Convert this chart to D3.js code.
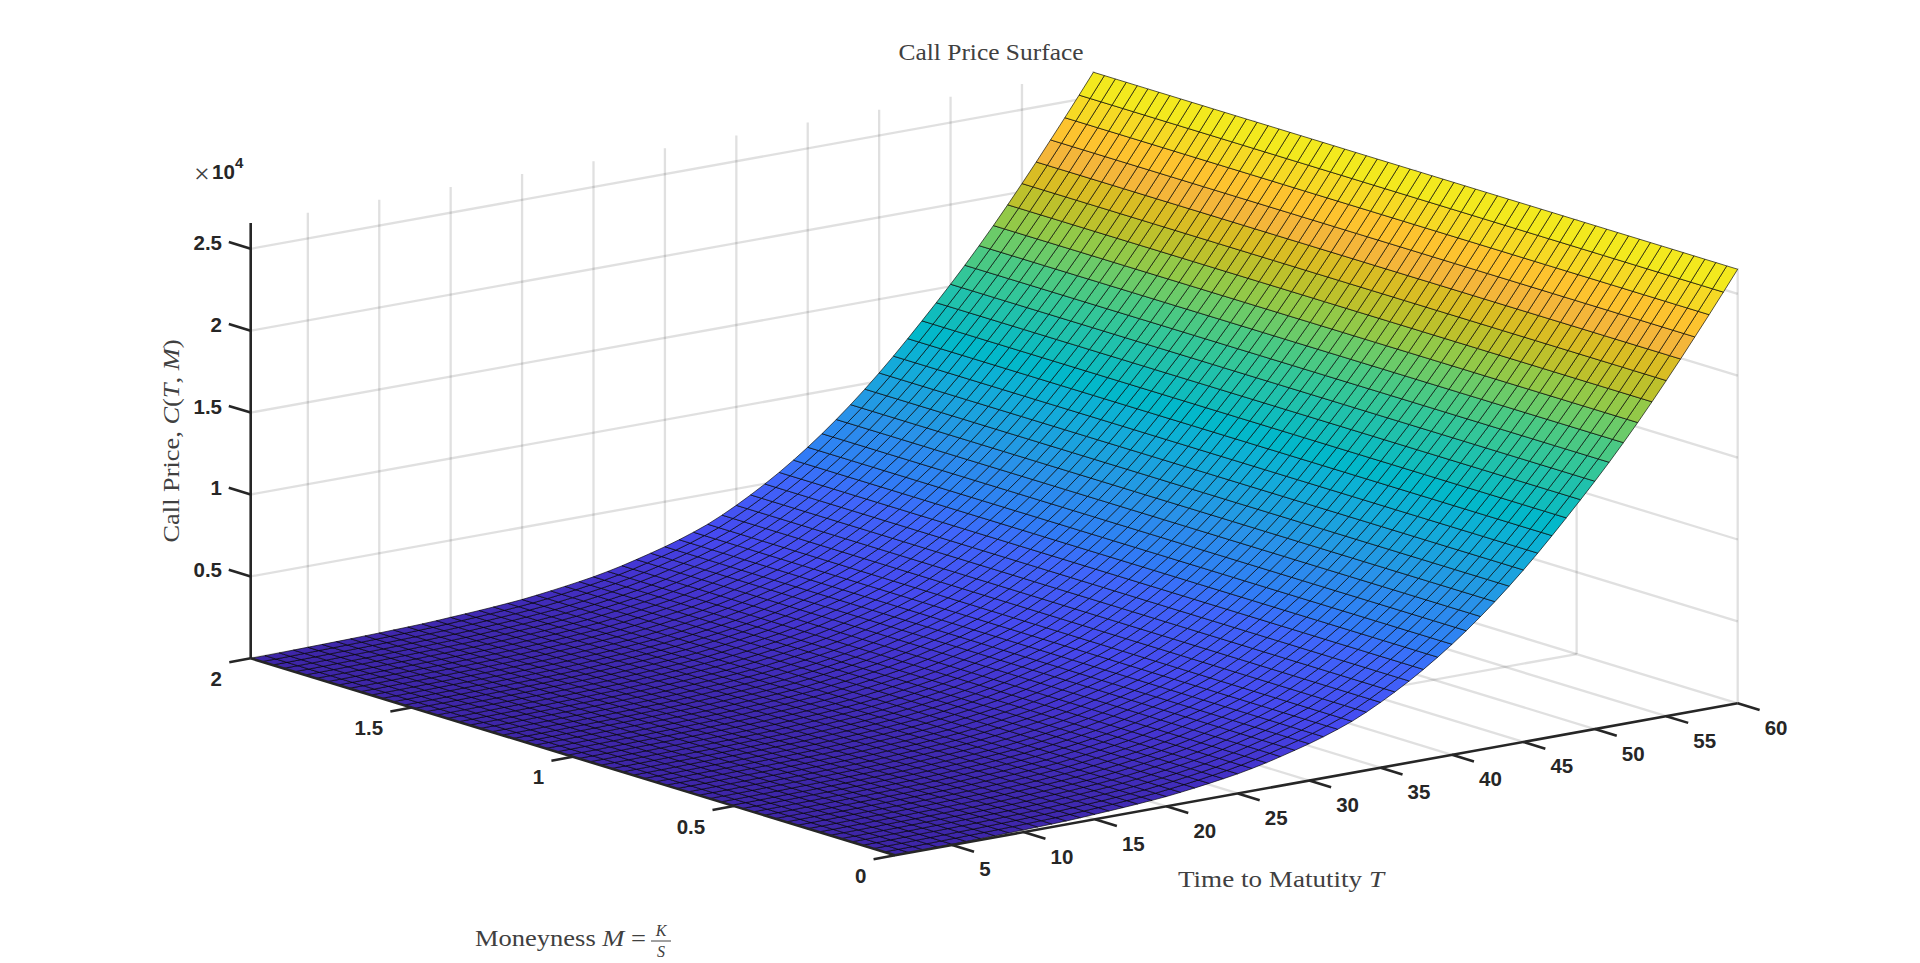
<!DOCTYPE html>
<html>
<head>
<meta charset="utf-8">
<script src="https://cdn.jsdelivr.net/npm/d3@7"></script>
<style>
    body { margin: 0; background: #fff; }
    text { fill: #262626; }
    .tick { font-family: "Liberation Sans", Arial, sans-serif; font-weight: bold; font-size: 20.5px; }
    .cm { font-family: "Liberation Serif", serif; font-size: 23px; fill: #404040; }
</style>
</head>
<body>
<div id="chart"></div>
<script>
// one mesh row per T, the price does not visibly change along M
const maturity = [1,2,3,4,5,6,7,8,9,10,11,12,13,14,15,16,17,18,19,20,21,22,23,24,25,26,27,28,29,30,
    31,32,33,34,35,36,37,38,39,40,41,42,43,44,45,46,47,48,49,50,51,52,53,54,55,56,57,58,59,60];
const moneyness = [0,.034,.068,.102,.136,.169,.203,.237,.271,.305,.339,.373,.407,.441,.475,.508,.542,.576,.61,.644,
    .678,.712,.746,.78,.814,.847,.881,.915,.949,.983,1.017,1.051,1.085,1.119,1.153,1.186,1.22,1.254,1.288,1.322,
    1.356,1.39,1.424,1.458,1.492,1.525,1.559,1.593,1.627,1.661,1.695,1.729,1.763,1.797,1.831,1.864,1.898,1.932,1.966,2];
const callPrice = [0,5,15,30,45,60,75,90,110,130,155,180,210,250,300,350,400,460,525,600,
    700,810,930,1060,1200,1370,1560,1780,2010,2250,2520,2820,3150,3550,3990,4470,4980,5530,6120,6750,
    7420,8130,8880,9670,10500,11370,12280,13210,14160,15130,16130,17170,18240,19350,20490,21650,22840,24040,25260,26500];

const tTicks = [5,10,15,20,25,30,35,40,45,50,55,60];
const mTicks = [0,0.5,1,1.5,2];
const zTicks = [5000,10000,15000,20000,25000];
const zMax = 26575;

const colorLevels = [0,1300,2700,5000,6300,8000,9300,11000,12200,13500,14800,15800,17200,18300,19300,20500,21600,22800,24000,25300,26500];
const colorValues = ["#3e26a8","#4433cd","#4649ef","#4065fb","#2f7ff5","#2a90ea","#1e9fe0","#10aed8","#02b8cb","#14bdb8",
    "#2cc5a0","#40c98c","#6ccb68","#95c946","#bcc12c","#d9bd24","#f4b53a","#fdc22f","#f6d824","#f3ea1e","#f8fa14"];

const svg = d3.select("#chart").append("svg")
    .attr("width", 1920)
    .attr("height", 963);

// orthographic view: each data axis has its own screen vector
const originX = 895, originY = 855.3;
const tX = d3.scaleLinear().domain([1, 60]).range([0, 842.7]);
const tY = d3.scaleLinear().domain([1, 60]).range([0, -152]);
const mX = d3.scaleLinear().domain([0, 2]).range([0, -644.3]);
const mY = d3.scaleLinear().domain([0, 2]).range([0, -197]);
const zY = d3.scaleLinear().domain([0, zMax]).range([0, -435.3]);
const color = d3.scaleLinear().domain(colorLevels).range(colorValues);

function project(t, m, z) {
    return [originX + tX(t) + mX(m), originY + tY(t) + mY(m) + zY(z)];
}

function segment(g, a, b, stroke, width, opacity) {
    g.append("line")
        .attr("x1", a[0]).attr("y1", a[1])
        .attr("x2", b[0]).attr("y2", b[1])
        .attr("stroke", stroke)
        .attr("stroke-width", width)
        .attr("stroke-opacity", opacity);
}

// grid on floor and the two back walls
const grid = svg.append("g");
const gridColor = "#262626", gridWidth = 2.3, gridAlpha = 0.14;
tTicks.forEach(t => {
    segment(grid, project(t, 0, 0), project(t, 2, 0), gridColor, gridWidth, gridAlpha);
    segment(grid, project(t, 2, 0), project(t, 2, zMax), gridColor, gridWidth, gridAlpha);
});
mTicks.slice(0, 4).forEach(m => {
    segment(grid, project(60, m, 0), project(60, m, zMax), gridColor, gridWidth, gridAlpha);
});
mTicks.slice(1).forEach(m => {
    segment(grid, project(1, m, 0), project(60, m, 0), gridColor, gridWidth, gridAlpha);
});
zTicks.forEach(z => {
    segment(grid, project(1, 2, z), project(60, 2, z), gridColor, gridWidth, gridAlpha);
    segment(grid, project(60, 2, z), project(60, 0, z), gridColor, gridWidth, gridAlpha);
});

// surface, one flat cell per mesh square, coloured from its lower T corner
const cells = [];
for (let i = 0; i < maturity.length - 1; i++) {
    for (let j = 0; j < moneyness.length - 1; j++) {
        cells.push({i: i, j: j});
    }
}
const cellLine = d3.line();
svg.append("g").selectAll("path")
    .data(cells)
    .join("path")
    .attr("d", d => cellLine([
        project(maturity[d.i], moneyness[d.j], callPrice[d.i]),
        project(maturity[d.i + 1], moneyness[d.j], callPrice[d.i + 1]),
        project(maturity[d.i + 1], moneyness[d.j + 1], callPrice[d.i + 1]),
        project(maturity[d.i], moneyness[d.j + 1], callPrice[d.i])
    ]) + "Z")
    .attr("fill", d => color(callPrice[d.i]))
    .attr("stroke", "#000")
    .attr("stroke-width", 0.65)
    .attr("stroke-linejoin", "round");

// axes
const axes = svg.append("g");
const axisColor = "#262626", axisWidth = 2.6;
segment(axes, project(1, 2, 0), project(1, 2, zMax), axisColor, axisWidth, 1);
segment(axes, project(1, 0, 0), project(1, 2, 0), axisColor, axisWidth, 1);
segment(axes, project(1, 0, 0), project(60, 0, 0), axisColor, axisWidth, 1);

const ticks = svg.append("g");
const labelText = v => String(v);

tTicks.forEach(t => {
    const p = project(t, 0, 0);
    const q = project(t, -0.068, 0);
    segment(axes, p, q, axisColor, axisWidth, 1);
    ticks.append("text").attr("class", "tick")
        .attr("x", p[0] + 27).attr("y", p[1] + 24)
        .attr("text-anchor", "start").attr("dominant-baseline", "central")
        .text(labelText(t));
});
mTicks.forEach(m => {
    const p = project(1, m, 0);
    const q = project(-0.5, m, 0);
    segment(axes, p, q, axisColor, axisWidth, 1);
    ticks.append("text").attr("class", "tick")
        .attr("x", p[0] - 28.7).attr("y", p[1] + 20)
        .attr("text-anchor", "end").attr("dominant-baseline", "central")
        .text(labelText(m));
});
zTicks.forEach(z => {
    const p = project(1, 2, z);
    const q = project(1, 2.068, z);
    segment(axes, p, q, axisColor, axisWidth, 1);
    ticks.append("text").attr("class", "tick")
        .attr("x", 222).attr("y", p[1] - 6.5)
        .attr("text-anchor", "end").attr("dominant-baseline", "central")
        .text(labelText(z / 10000));
});

// exponent
ticks.append("text").attr("class", "cm").style("font-size", "28px").attr("x", 194).attr("y", 183).text("×");
ticks.append("text").attr("class", "tick").attr("x", 212).attr("y", 179).text("10");
ticks.append("text").attr("class", "tick").attr("x", 235).attr("y", 168).style("font-size", "15px").text("4");

// titles
svg.append("text").attr("class", "cm")
    .attr("x", 991).attr("y", 60)
    .attr("text-anchor", "middle")
    .attr("textLength", 185).attr("lengthAdjust", "spacingAndGlyphs")
    .text("Call Price Surface");

const yLabel = svg.append("text").attr("class", "cm")
    .attr("transform", "translate(179,441) rotate(-90)")
    .attr("text-anchor", "middle")
    .attr("textLength", 203).attr("lengthAdjust", "spacingAndGlyphs");
yLabel.append("tspan").text("Call Price, ");
yLabel.append("tspan").style("font-style", "italic").text("C");
yLabel.append("tspan").text("(");
yLabel.append("tspan").style("font-style", "italic").text("T");
yLabel.append("tspan").text(", ");
yLabel.append("tspan").style("font-style", "italic").text("M");
yLabel.append("tspan").text(")");

const tLabel = svg.append("text").attr("class", "cm")
    .attr("x", 1178).attr("y", 887)
    .attr("textLength", 206).attr("lengthAdjust", "spacingAndGlyphs");
tLabel.append("tspan").text("Time to Matutity ");
tLabel.append("tspan").style("font-style", "italic").text("T");

const mLabel = svg.append("text").attr("class", "cm")
    .attr("x", 475).attr("y", 946)
    .attr("textLength", 171).attr("lengthAdjust", "spacingAndGlyphs");
mLabel.append("tspan").text("Moneyness ");
mLabel.append("tspan").style("font-style", "italic").text("M");
mLabel.append("tspan").text(" =");

svg.append("text").attr("class", "cm").style("font-size", "16px").style("font-style", "italic")
    .attr("x", 661).attr("y", 936).attr("text-anchor", "middle").text("K");
svg.append("text").attr("class", "cm").style("font-size", "16px").style("font-style", "italic")
    .attr("x", 661).attr("y", 957).attr("text-anchor", "middle").text("S");
segment(svg, [651, 941], [671, 941], "#404040", 1, 1);
</script>
</body>
</html>
